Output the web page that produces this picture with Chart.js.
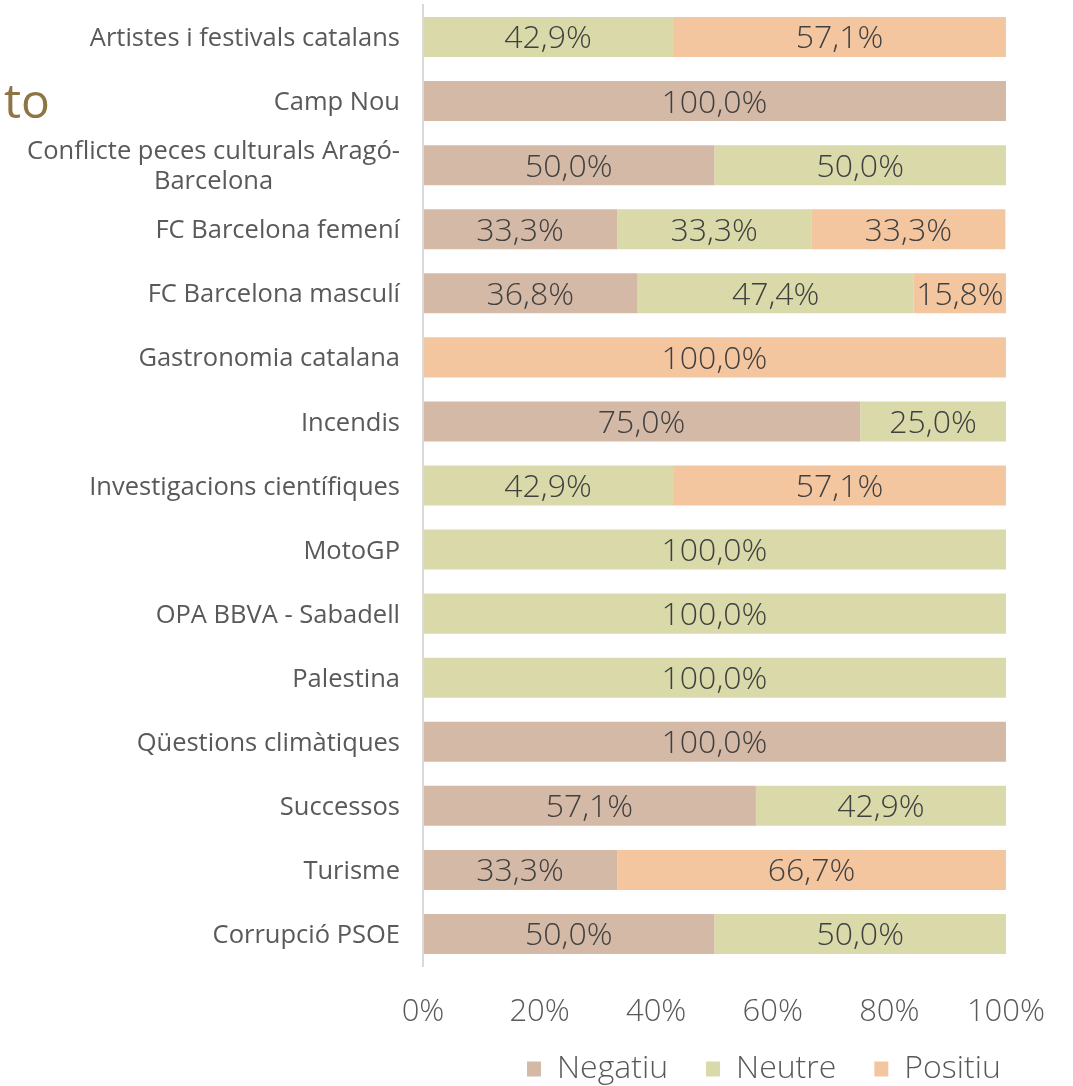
<!DOCTYPE html>
<html>
<head>
<meta charset="utf-8">
<script src="https://cdn.jsdelivr.net/npm/chart.js@4.4.0/dist/chart.umd.min.js"></script>
<style>
  html, body { margin: 0; padding: 0; background: #fff; }
</style>
</head>
<body>
<canvas id="sentimentChart" width="1073" height="1086"></canvas>
<script>
// Categories (top to bottom) and the share of each sentiment, in %
const categories = [
  "Artistes i festivals catalans",
  "Camp Nou",
  ["Conflicte peces culturals Aragó-", "Barcelona"],
  "FC Barcelona femení",
  "FC Barcelona masculí",
  "Gastronomia catalana",
  "Incendis",
  "Investigacions científiques",
  "MotoGP",
  "OPA BBVA - Sabadell",
  "Palestina",
  "Qüestions climàtiques",
  "Successos",
  "Turisme",
  "Corrupció PSOE"
];
const negatiu = [null, 100, 50, 33.3, 36.8, null, 75, null, null, null, null, 100, 57.1, 33.3, 50];
const neutre  = [42.9, null, 50, 33.3, 47.4, null, 25, 42.9, 100, 100, 100, null, 42.9, null, 50];
const positiu = [57.1, null, null, 33.3, 15.8, 100, null, 57.1, null, null, null, null, null, 66.7, null];
const seriesNames = ["Negatiu", "Neutre", "Positiu"];
const titleFragment = "to";

const FONT = "'Open Sans', 'Noto Sans', sans-serif";
const colors = ["#D3B9A6", "#D9D9A9", "#F4C6A0"];

const fmtPct = (v) => v.toFixed(1).replace(".", ",") + "%";

// Category names: single lines right aligned, wrapped lines centred like Excel
const categoryLabels = {
  id: "categoryLabels",
  afterDraw(chart) {
    const { ctx } = chart;
    const y = chart.scales.y;
    const right = y.right - 23;
    const size = 25.5;
    const lineH = 30;
    ctx.save();
    ctx.font = `400 ${size}px ${FONT}`;
    ctx.fillStyle = "#595959";
    ctx.textBaseline = "alphabetic";
    categories.forEach((label, i) => {
      const cy = y.getPixelForValue(i);
      const lines = Array.isArray(label) ? label : [label];
      const widest = Math.max(...lines.map((l) => ctx.measureText(l).width));
      const top = cy - ((lines.length - 1) * lineH) / 2;
      lines.forEach((line, j) => {
        const ly = top + j * lineH + size * 0.357;
        if (lines.length > 1) {
          ctx.textAlign = "center";
          ctx.fillText(line, right - widest / 2, ly);
        } else {
          ctx.textAlign = "right";
          ctx.fillText(line, right, ly);
        }
      });
    });
    ctx.restore();
  },
};

// Value labels in the middle of each segment
const barValueLabels = {
  id: "barValueLabels",
  afterDatasetsDraw(chart) {
    const { ctx } = chart;
    const size = 32;
    ctx.save();
    ctx.font = `300 ${size}px ${FONT}`;
    ctx.fillStyle = "#404040";
    ctx.textAlign = "center";
    ctx.textBaseline = "alphabetic";
    chart.data.datasets.forEach((ds, di) => {
      chart.getDatasetMeta(di).data.forEach((bar, i) => {
        const v = ds.data[i];
        if (v == null || v <= 0) return;
        const { x, y } = bar.getCenterPoint();
        ctx.fillText(fmtPct(v), x, y + size * 0.357);
      });
    });
    ctx.restore();
  },
};

// Leftover piece of the cropped chart title
const titleBit = {
  id: "titleBit",
  afterDraw(chart) {
    const { ctx } = chart;
    ctx.save();
    ctx.font = `400 48px ${FONT}`;
    ctx.fillStyle = "#8D7544";
    ctx.textAlign = "left";
    ctx.textBaseline = "alphabetic";
    ctx.fillText(titleFragment, 4, 118);
    ctx.restore();
  },
};

// Legend sits right of centre in the original
const legendPlacement = {
  id: "legendPlacement",
  afterLayout(chart) {
    if (!chart.legend) return;
    chart.legend.left = 489;
    chart.legend.right = chart.width;
    chart.legend.top = 1015;
  },
};

const ctx = document.getElementById("sentimentChart").getContext("2d");

const sentimentChart = new Chart(ctx, {
  type: "bar",
  data: {
    labels: categories,
    datasets: [
      { label: seriesNames[0], data: negatiu, backgroundColor: colors[0] },
      { label: seriesNames[1], data: neutre, backgroundColor: colors[1] },
      { label: seriesNames[2], data: positiu, backgroundColor: colors[2] },
    ],
  },
  options: {
    indexAxis: "y",
    responsive: false,
    animation: false,
    devicePixelRatio: 1,
    barPercentage: 0.625,
    categoryPercentage: 1,
    layout: { padding: { top: 5, right: 67, left: 0, bottom: 0 } },
    scales: {
      x: {
        stacked: true,
        min: 0,
        max: 100,
        grid: { display: false, drawTicks: false },
        border: { display: false },
        ticks: {
          stepSize: 20,
          padding: 28,
          color: "#595959",
          font: { family: FONT, size: 31, weight: 300 },
          callback: (v) => v + "%",
        },
        afterFit: (s) => { s.height = 55; },
      },
      y: {
        stacked: true,
        grid: { display: false, drawTicks: false },
        border: { display: true, color: "#D9D9D9", width: 2, z: 1 },
        ticks: { display: false },
        afterFit: (s) => { s.width = 423; },
      },
    },
    plugins: {
      tooltip: { enabled: false },
      legend: {
        position: "bottom",
        align: "start",
        maxHeight: 65,
        labels: {
          boxWidth: 14,
          boxHeight: 15,
          padding: 38,
          color: "#595959",
          font: { family: FONT, size: 32, weight: 300 },
        },
      },
    },
  },
  plugins: [categoryLabels, barValueLabels, titleBit, legendPlacement],
});
</script>
</body>
</html>
